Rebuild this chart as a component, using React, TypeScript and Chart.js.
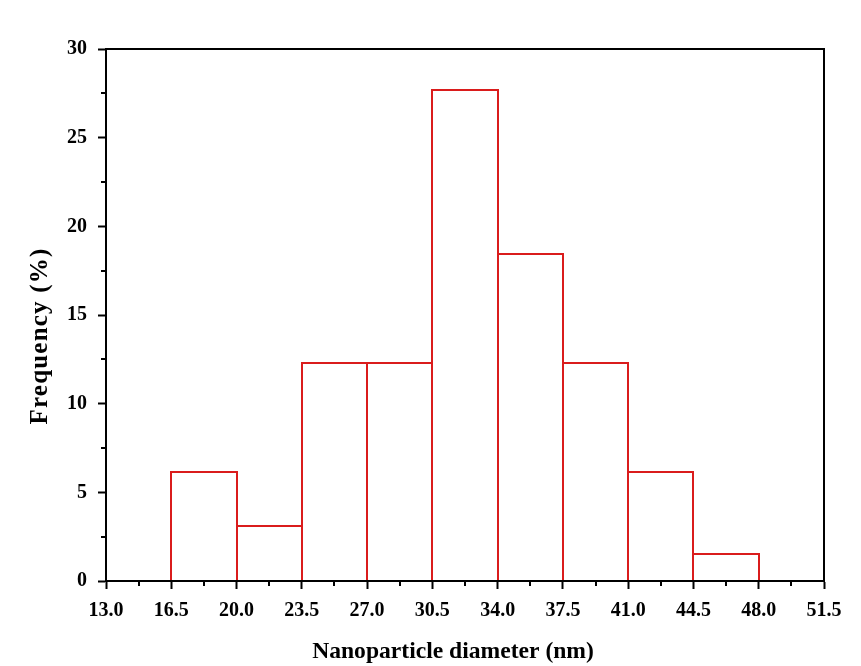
import React, { useEffect, useRef } from "react";
import { Chart, registerables } from "chart.js";

Chart.register(...registerables);

const binStarts = [16.5, 20.0, 23.5, 27.0, 30.5, 34.0, 37.5, 41.0, 44.5];
const binWidth = 3.5;
const frequencies = [6.15, 3.08, 12.31, 12.31, 27.69, 18.46, 12.31, 6.15, 1.54];
const xTicks = [13.0, 16.5, 20.0, 23.5, 27.0, 30.5, 34.0, 37.5, 41.0, 44.5, 48.0, 51.5];
const yTicks = [0, 5, 10, 15, 20, 25, 30];
const xTitle = "Nanoparticle diameter (nm)";
const yTitle = "Frequency (%)";

const FONT = "'Liberation Serif', 'Times New Roman', serif";
const BAR_RED = "rgb(218,28,28)";

export default function App() {
  const ref = useRef<HTMLCanvasElement | null>(null);
  useEffect(() => {
    const canvas = ref.current;
    if (!canvas) return;

    const outlinePlugin = {
      id: "barOutlines",
      afterDatasetsDraw(chart: any) {
        const { ctx } = chart;
        const meta = chart.getDatasetMeta(0);
        ctx.save();
        ctx.strokeStyle = BAR_RED;
        ctx.lineWidth = 2;
        ctx.lineJoin = "miter";
        for (const el of meta.data) {
          const p = el.getProps(["x", "y", "base", "width"], true);
          const l = Math.round(p.x - p.width / 2);
          const r = Math.round(p.x + p.width / 2);
          const t = Math.round(p.y);
          const b = Math.round(p.base);
          ctx.beginPath();
          ctx.moveTo(l, b);
          ctx.lineTo(l, t);
          ctx.lineTo(r, t);
          ctx.lineTo(r, b);
          ctx.stroke();
        }
        ctx.restore();
      },
    };

    const framePlugin = {
      id: "frameAndMinor",
      afterDraw(chart: any) {
        const { ctx, chartArea } = chart;
        const xs = chart.scales.x;
        const ys = chart.scales.y;
        ctx.save();
        ctx.strokeStyle = "#000";
        ctx.lineWidth = 2;
        ctx.strokeRect(chartArea.left, chartArea.top, chartArea.right - chartArea.left, chartArea.bottom - chartArea.top);
        ctx.beginPath();
        for (let i = 0; i < xTicks.length - 1; i++) {
          const v = (xTicks[i] + xTicks[i + 1]) / 2;
          const px = Math.round(xs.getPixelForValue(v));
          ctx.moveTo(px, chartArea.bottom);
          ctx.lineTo(px, chartArea.bottom + 5);
        }
        for (let i = 0; i < yTicks.length - 1; i++) {
          const v = (yTicks[i] + yTicks[i + 1]) / 2;
          const py = Math.round(ys.getPixelForValue(v));
          ctx.moveTo(chartArea.left, py);
          ctx.lineTo(chartArea.left - 5, py);
        }
        ctx.stroke();
        ctx.fillStyle = "#000";
        ctx.textAlign = "center";
        ctx.textBaseline = "alphabetic";
        ctx.font = `bold 23.6px ${FONT}`;
        ctx.fillText(xTitle, 453, 658);
        ctx.translate(47, 336);
        ctx.rotate(-Math.PI / 2);
        ctx.font = `bold 25px ${FONT}`;
        (ctx as any).letterSpacing = "1.2px";
        ctx.fillText(yTitle, 0, 0);
        ctx.restore();
      },
    };

    const chart = new Chart(canvas, {
      type: "bar",
      data: {
        datasets: [
          {
            data: binStarts.map((s, i) => ({ x: s + binWidth / 2, y: frequencies[i] })),
            backgroundColor: "rgba(0,0,0,0)",
            borderColor: BAR_RED,
            borderWidth: 0,
            inflateAmount: 0,
            barPercentage: 1,
            categoryPercentage: 1,
          },
        ],
      },
      options: {
        responsive: false,
        animation: false,
        layout: { padding: { left: 0, top: 49, right: 37, bottom: 0 } },
        plugins: { legend: { display: false }, tooltip: { enabled: false }, title: { display: false } },
        scales: {
          x: {
            type: "linear",
            min: 13,
            max: 51.5,
            offset: false,
            afterBuildTicks: (scale: any) => {
              scale.ticks = xTicks.map((v) => ({ value: v }));
            },
            afterFit: (scale: any) => {
              scale.height = 85;
            },
            grid: { display: true, offset: false, drawOnChartArea: false, drawTicks: true, tickLength: 8, tickWidth: 2, tickColor: "#000", color: "#000" },
            border: { display: true, color: "#000", width: 2 },
            ticks: {
              autoSkip: false,
              maxRotation: 0,
              padding: 10,
              color: "#000",
              font: { family: FONT, size: 20, weight: "bold" },
              callback: (v: any) => Number(v).toFixed(1),
            },
          },
          y: {
            type: "linear",
            min: 0,
            max: 30,
            afterBuildTicks: (scale: any) => {
              scale.ticks = yTicks.map((v) => ({ value: v }));
            },
            afterFit: (scale: any) => {
              scale.width = 106;
            },
            grid: { display: true, offset: false, drawOnChartArea: false, drawTicks: true, tickLength: 8, tickWidth: 2, tickColor: "#000", color: "#000" },
            border: { display: true, color: "#000", width: 2 },
            ticks: {
              padding: 11,
              color: "#000",
              font: { family: FONT, size: 20, weight: "bold" },
              callback: (v: any) => String(v),
            },
          },
        },
      },
      plugins: [outlinePlugin, framePlugin],
    } as any);
    return () => chart.destroy();
  }, []);

  return (
    <div style={{ position: "fixed", left: 0, top: 0, width: 861, height: 666, background: "#fff" }}>
      <canvas ref={ref} width={861} height={666} style={{ display: "block" }} />
    </div>
  );
}
